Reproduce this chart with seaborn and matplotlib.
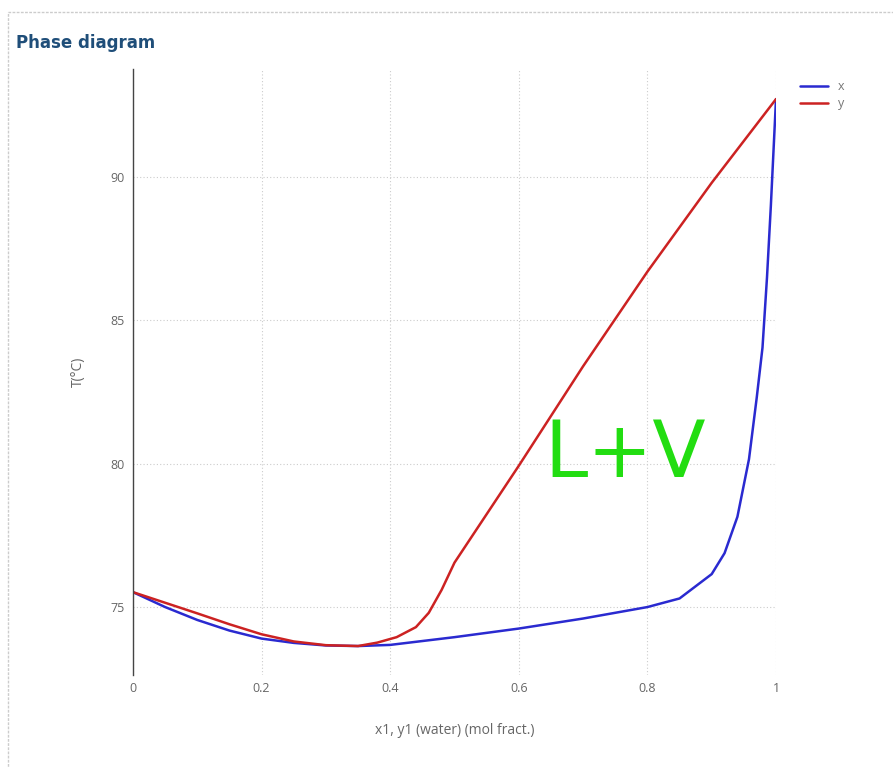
import matplotlib
matplotlib.use("Agg")
import matplotlib.pyplot as plt
import seaborn as sns
import pandas as pd
from matplotlib.patches import Rectangle

# ---- data ----
x_liq = [0.0, 0.05, 0.1, 0.15, 0.2, 0.25, 0.3, 0.35, 0.4, 0.5, 0.6, 0.7, 0.8,
         0.85, 0.9, 0.92, 0.94, 0.958, 0.97, 0.979, 0.986, 0.992, 1.0]
T_liq = [75.52, 75.0, 74.55, 74.18, 73.9, 73.75, 73.66, 73.64, 73.68, 73.95,
         74.25, 74.6, 75.0, 75.3, 76.15, 76.88, 78.15, 80.16, 82.3, 84.05,
         86.5, 89.0, 92.72]
y_vap = [0.0, 0.05, 0.1, 0.15, 0.2, 0.25, 0.3, 0.35, 0.38, 0.41, 0.44, 0.46,
         0.48, 0.5, 0.6, 0.7, 0.8, 0.9, 1.0]
T_vap = [75.52, 75.15, 74.78, 74.4, 74.05, 73.8, 73.67, 73.64, 73.76, 73.95,
         74.3, 74.8, 75.6, 76.55, 79.93, 83.4, 86.7, 89.8, 92.72]
x_ticks = [0, 0.2, 0.4, 0.6, 0.8, 1.0]
x_tick_labels = ["0", "0.2", "0.4", "0.6", "0.8", "1"]
y_ticks = [75, 80, 85, 90]
series_names = ["x", "y"]

df = pd.concat([
    pd.DataFrame({"frac": x_liq, "T": T_liq, "series": series_names[0]}),
    pd.DataFrame({"frac": y_vap, "T": T_vap, "series": series_names[1]}),
], ignore_index=True)

sns.set_theme(style="white")
plt.rcParams["font.family"] = ["Open Sans", "DejaVu Sans"]

W, H = 893, 767
fig = plt.figure(figsize=(W / 100, H / 100), dpi=100)
ax = fig.add_axes([133 / W, 1 - 675 / H, (776 - 133) / W, (675 - 69) / H])

palette = {"x": "#2a2ad0", "y": "#cc2222"}
sns.lineplot(data=df, x="frac", y="T", hue="series", palette=palette,
             sort=False, estimator=None, linewidth=1.8, ax=ax)

ax.set_xlim(0, 1)
ax.set_ylim(72.63, 93.77)
ax.set_xticks(x_ticks)
ax.set_xticklabels(x_tick_labels)
ax.set_yticks(y_ticks)
ax.tick_params(axis="both", length=0, labelsize=9, colors="#666666")
ax.tick_params(axis="x", pad=5)
ax.tick_params(axis="y", pad=6)
ax.grid(True, linestyle=(0, (1, 2)), color="#cccccc", linewidth=0.8)
for s in ["top", "right", "bottom"]:
    ax.spines[s].set_visible(False)
ax.spines["left"].set_color("#444444")
ax.spines["left"].set_linewidth(1.0)

ax.set_xlabel("x1, y1 (water) (mol fract.)", fontsize=10, color="#666666", labelpad=20)
ax.set_ylabel("T(°C)", fontsize=10, color="#666666", labelpad=18)

leg = ax.legend(loc="upper left", bbox_to_anchor=(1.02, 1.0), frameon=False,
                fontsize=9, handlelength=2.2, labelspacing=0.3)
for t in leg.get_texts():
    t.set_color("#777777")

# green hand annotation
ax.text(0.765, 80.3, "L+V", color="#22dd11", fontsize=56, ha="center",
        va="center", fontweight="normal", family=["DejaVu Sans"])

# title and panel border
fig.text(16 / W, 1 - 43 / H, "Phase diagram", fontsize=12, fontweight="bold",
         color="#1f4e79", va="center", ha="left", family=["DejaVu Sans"])
fig.patches.append(Rectangle((8 / W, -0.05), 1.2, 1.05 - 12 / H,
                             transform=fig.transFigure, fill=False,
                             edgecolor="#cccccc", linewidth=1.0,
                             linestyle=(0, (2, 1))))

fig.savefig("out.png", dpi=100)
